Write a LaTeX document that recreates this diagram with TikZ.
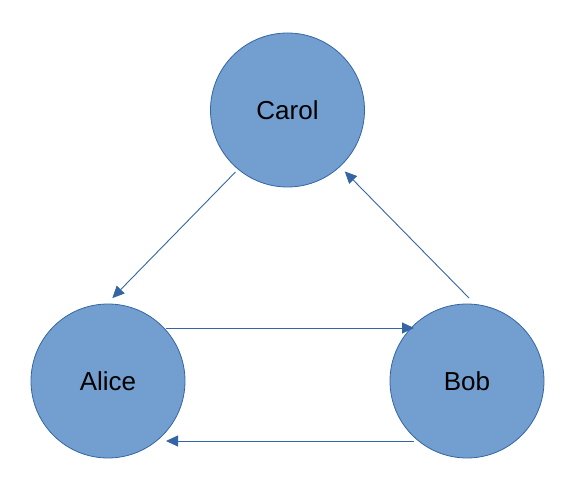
\documentclass[tikz,border=0pt]{standalone}
\usepackage{fontspec}
\setmainfont{Liberation Sans}
\usetikzlibrary{arrows.meta,calc}
\definecolor{relleno}{HTML}{729FCF}
\definecolor{borde}{HTML}{3465A4}
\begin{document}
\begin{tikzpicture}[x=1pt, y=1pt,
    persona/.style={circle, draw=borde, fill=relleno, line width=0.8pt,
      minimum size=154pt, inner sep=0pt, font=\fontsize{26}{30}\selectfont},
    flecha/.style={draw=borde, line width=0.9pt,
      -{Triangle[length=12pt, width=11pt]}}]
    \useasboundingbox (0,0) rectangle (576,480);

    % Las tres personas como circulos
    \node[persona] (carol) at (287.5, 370) {Carol};
    \node[persona] (alice) at (108, 99) {Alice};
    \node[persona] (bob) at (467, 99) {Bob};

    % Puntos de apoyo de las flechas
    \coordinate (c1) at ($(carol.center)+(230:81)$);
    \coordinate (a1) at ($(alice.center)+(87:83)$);
    \coordinate (b1) at ($(bob.center)+(88.6:83)$);
    \coordinate (c2) at ($(carol.center)+(313:84)$);
    \coordinate (a2) at ($(alice.center)+(58,53)$);
    \coordinate (b2) at ($(bob.center)+(-53,53)$);
    \coordinate (b3) at ($(bob.center)+(-53,-60)$);
    \coordinate (a3) at ($(alice.center)+(58,-60)$);

    % Flechas entre las personas
    \draw[flecha] (c1) -- (a1);
    \draw[flecha] (b1) -- (c2);
    \draw[flecha] (a2) -- (b2);
    \draw[flecha] (b3) -- (a3);

  \end{tikzpicture}
\end{document}
